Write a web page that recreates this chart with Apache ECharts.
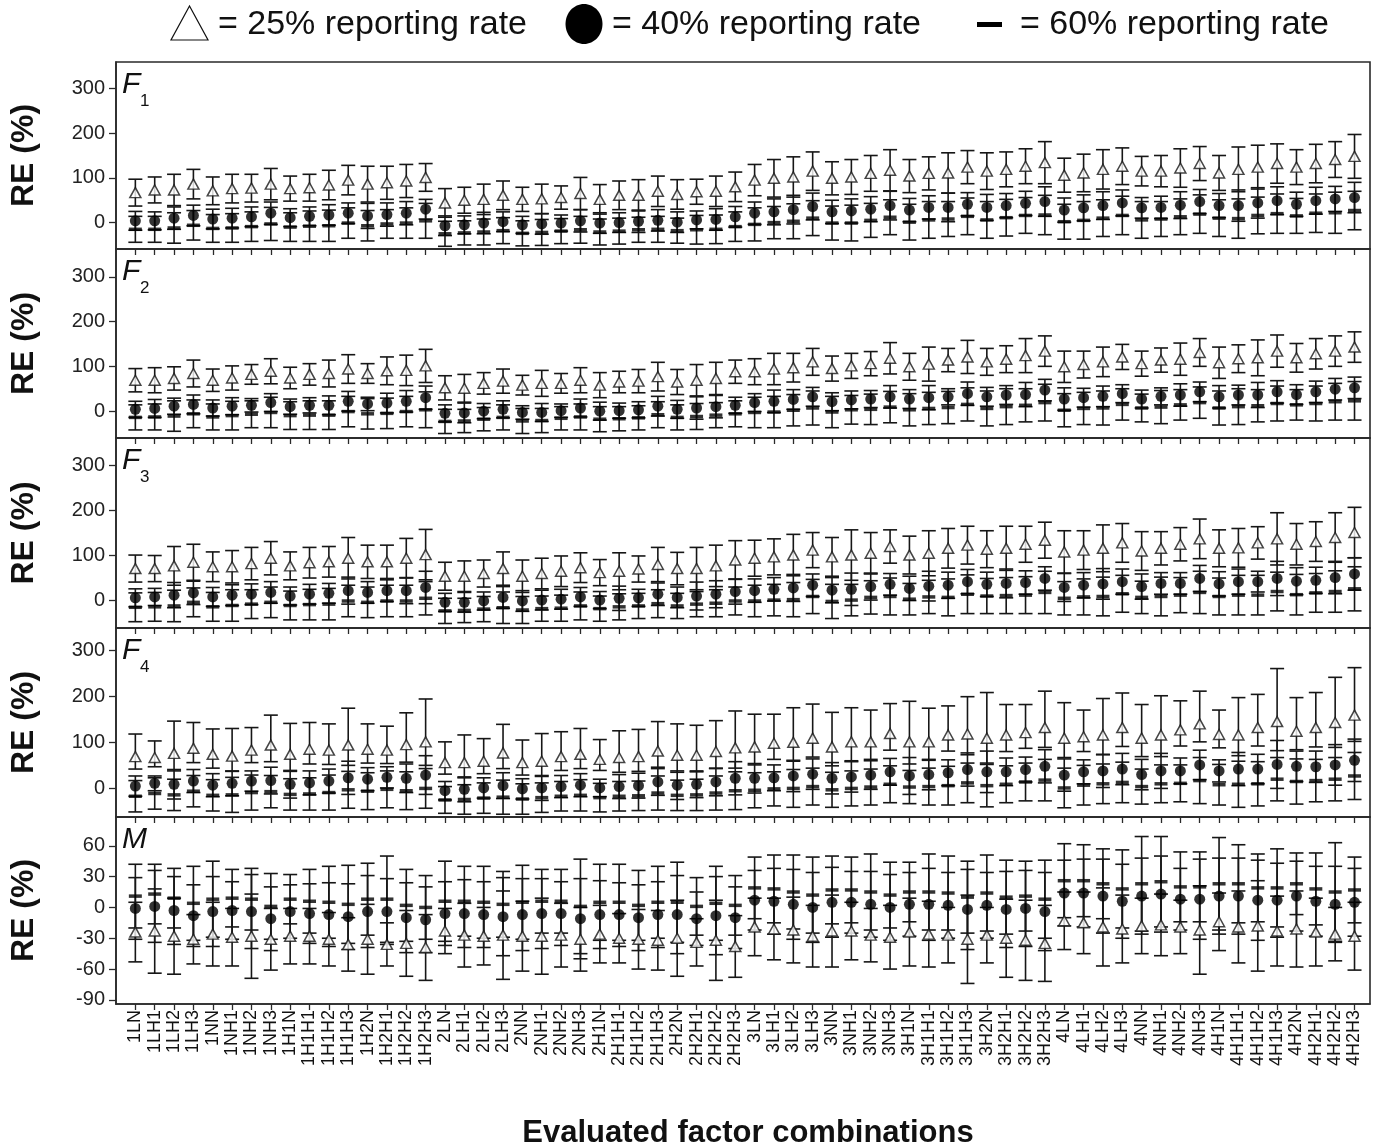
<!DOCTYPE html>
<html><head><meta charset="utf-8">
<script src="https://cdn.jsdelivr.net/npm/echarts@6/dist/echarts.min.js"></script>
<style>html,body{margin:0;padding:0;background:#fff}#c{width:1380px;height:1148px}</style>
</head><body><div id="c"></div>
<script>
const categories = ['1LN','1LH1','1LH2','1LH3','1NN','1NH1','1NH2','1NH3','1H1N','1H1H1','1H1H2','1H1H3','1H2N','1H2H1','1H2H2','1H2H3',
'2LN','2LH1','2LH2','2LH3','2NN','2NH1','2NH2','2NH3','2H1N','2H1H1','2H1H2','2H1H3','2H2N','2H2H1','2H2H2','2H2H3',
'3LN','3LH1','3LH2','3LH3','3NN','3NH1','3NH2','3NH3','3H1N','3H1H1','3H1H2','3H1H3','3H2N','3H2H1','3H2H2','3H2H3',
'4LN','4LH1','4LH2','4LH3','4NN','4NH1','4NH2','4NH3','4H1N','4H1H1','4H1H2','4H1H3','4H2N','4H2H1','4H2H2','4H2H3'];

const fTicks = [0,100,200,300];
const mTicks = [-90,-60,-30,0,30,60];

// ---- F1 ----
const f1TriV = [67,73,73,86,71,76,77,86,76,78,84,95,86,89,93,101, 44,50,52,61,52,53,56,65,52,61,61,70,63,69,70,80, 95,99,102,115,99,102,110,117,104,110,111,124,115,119,126,134, 106,111,119,126,115,115,122,132,111,119,124,132,124,132,141,148];
const f1TriE = [30,29,35,33,31,32,31,35,28,30,33,33,40,37,37,31, 32,29,34,32,27,33,26,36,33,32,35,34,33,28,34,33, 35,42,45,43,37,39,40,46,37,37,45,37,41,39,39,47, 38,42,44,41,33,35,43,38,39,50,49,44,39,43,40,49];
const f1DotV = [4,4,10,16,8,10,13,21,11,14,17,21,15,18,21,30, -7,-5,-1,2,-5,-3,-1,4,-1,0,3,5,1,6,7,13, 21,24,29,36,24,26,30,38,28,34,34,41,34,38,43,47, 28,33,38,44,33,34,39,47,38,38,44,49,41,49,53,56];
const f1DotE = [21,20,25,23,22,22,22,25,20,21,23,23,28,26,26,22, 22,20,24,22,19,23,18,25,23,22,25,24,23,20,24,23, 25,29,32,30,26,27,28,32,26,26,32,26,29,27,27,33, 27,29,31,29,23,25,30,27,27,35,34,31,27,30,28,34];
const f1DashV = [-15,-15,-12,-6,-13,-12,-9,-3,-10,-8,-7,-1,-7,-3,-1,4, -25,-23,-21,-18,-24,-22,-19,-16,-21,-19,-16,-15,-18,-16,-15,-9, -4,0,3,10,-1,-1,5,12,1,6,8,14,6,11,16,17, 2,5,10,16,6,8,13,19,10,9,16,20,15,21,22,27];
const f1DashE = [29,29,34,33,31,32,33,37,32,34,35,34,34,32,34,39, 28,27,29,29,28,29,28,30,29,29,28,29,28,32,32,33, 37,36,39,39,38,40,38,39,40,41,39,41,41,41,40,44, 39,42,41,43,41,39,40,43,41,44,41,44,39,43,46,43];

// ---- F2 ----
const f2TriV = [69,69,73,84,69,74,82,89,74,82,84,94,84,90,91,101, 52,51,62,67,58,62,62,69,58,65,67,77,65,69,73,88, 88,94,97,110,95,101,106,118,99,105,114,121,110,116,124,134, 99,104,110,121,106,114,116,131,108,117,119,134,119,128,134,143];
const f2TriE = [26,28,26,30,25,27,22,28,24,24,30,32,22,31,34,37, 27,31,24,27,22,29,22,28,28,24,26,32,28,35,36,26, 29,35,32,30,28,28,27,35,30,38,26,37,30,30,38,34, 35,30,33,28,28,27,36,31,35,31,40,36,32,34,34,34];
const f2DotV = [4,6,11,15,7,11,13,19,10,13,13,22,16,18,22,30, -5,-4,0,4,-3,-3,1,7,0,1,3,11,4,7,10,13, 19,22,26,32,21,25,27,32,27,30,32,39,32,36,37,47, 27,30,33,39,27,33,36,43,32,36,36,43,37,43,49,52];
const f2DotE = [18,20,18,21,18,19,15,20,17,17,21,22,15,22,24,26, 19,22,17,19,15,20,15,20,20,17,18,22,20,25,25,18, 20,25,22,21,20,20,19,25,21,27,18,26,21,21,27,24, 25,21,23,20,20,19,25,22,25,22,28,25,22,24,24,24];
const f2DashV = [-14,-13,-11,-6,-13,-10,-7,-3,-10,-9,-9,-1,-6,-5,-1,3, -23,-22,-18,-14,-22,-21,-16,-13,-18,-17,-15,-8,-14,-12,-9,-6, -3,-2,2,7,-2,3,4,9,3,6,8,15,6,10,13,19, 2,6,7,15,7,9,14,19,7,10,12,17,14,17,21,23];
const f2DashE = [28,29,34,31,29,32,30,34,31,32,32,34,34,34,34,40, 27,26,26,28,28,27,26,29,28,27,27,29,28,29,28,29, 34,35,35,38,35,32,34,35,36,36,36,37,39,40,37,41, 37,36,38,35,31,37,34,35,38,40,36,39,34,39,41,43];

// ---- F3 ----
const f3TriV = [70,70,76,84,74,74,81,93,76,83,85,93,85,85,93,101, 53,53,59,70,53,59,64,72,61,64,69,79,70,70,76,89, 93,96,100,111,96,100,104,119,100,104,115,122,113,115,124,133, 107,111,115,127,109,115,124,136,115,116,127,136,124,130,139,150];
const f3TriE = [30,29,43,40,33,36,36,37,31,34,34,46,37,37,44,56, 31,34,30,37,36,34,34,33,29,41,29,38,36,47,46,43, 40,40,46,39,43,56,46,37,42,50,44,42,41,49,40,40, 47,43,52,43,43,37,37,44,41,43,36,58,46,44,55,56];
const f3DotV = [5,7,11,16,7,11,13,17,9,13,15,21,17,21,21,28, -5,-5,-2,6,-2,0,2,7,0,4,5,13,6,9,13,19, 21,24,27,33,22,24,30,35,26,31,33,41,35,37,39,48, 28,33,36,41,30,37,37,48,36,41,41,48,42,44,50,58];
const f3DotE = [20,19,28,26,21,23,23,24,20,22,22,30,24,24,29,36, 20,22,20,24,23,22,22,21,19,27,19,25,23,31,30,28, 26,26,30,25,28,36,30,24,27,33,29,27,27,32,26,26, 31,28,34,28,28,24,24,29,27,28,23,38,30,29,36,36];
const f3DashV = [-16,-15,-13,-5,-15,-12,-9,-5,-12,-10,-9,-2,-5,-2,-2,4, -24,-23,-20,-17,-22,-19,-18,-13,-19,-15,-13,-8,-13,-9,-7,-2, -2,0,1,8,-3,0,6,8,2,7,6,13,9,10,11,17, 4,7,8,14,6,8,11,17,8,11,11,19,12,16,19,25];
const f3DashE = [32,32,35,32,32,35,32,34,32,34,35,35,34,35,35,37, 28,27,28,35,30,28,29,31,28,29,28,31,28,28,30,31, 35,35,38,38,38,35,37,41,35,37,41,43,39,40,41,47, 37,40,43,41,36,43,39,47,41,44,44,43,45,43,46,49];

// ---- F4 ----
const f4TriV = [69,67,76,87,74,70,83,94,74,85,83,94,85,83,95,101, 56,56,59,77,56,59,69,74,63,67,69,81,72,72,80,88, 90,98,100,109,90,101,101,119,101,101,116,118,109,116,121,132, 109,112,116,132,109,116,127,140,117,116,132,145,124,132,143,159];
const f4TriE = [49,36,70,56,55,60,49,65,67,58,57,80,55,52,69,93, 45,60,49,62,49,60,54,56,43,58,59,64,68,65,67,80, 71,63,75,74,75,74,69,65,88,73,63,81,99,66,61,79, 77,58,79,75,73,85,63,71,53,81,72,115,73,76,98,103];
const f4TriEd = [27,20,38,31,30,33,27,36,37,32,31,44,30,29,38,51, 25,33,27,34,27,33,30,31,24,32,32,35,37,36,37,44, 39,35,41,41,41,41,38,36,48,40,35,45,54,36,34,43, 42,32,43,41,40,47,35,39,29,45,40,63,40,42,54,57];
const f4DotV = [5,11,9,16,7,11,16,17,9,12,16,23,20,24,22,29, -5,-2,1,6,-1,1,4,7,1,4,6,14,7,9,14,22, 22,23,27,31,22,25,29,36,27,30,34,41,36,36,41,48, 29,36,38,42,30,38,38,51,38,42,42,52,48,47,51,61];
const f4DotE = [22,16,32,25,25,27,22,29,30,26,26,36,25,23,31,42, 20,27,22,28,22,27,24,25,19,26,27,29,31,29,30,36, 32,28,34,33,34,33,31,29,40,33,28,36,45,30,27,36, 35,26,36,34,33,38,28,32,24,36,32,52,33,34,44,46];
const f4DashV = [-17,-11,-14,-6,-15,-14,-9,-7,-13,-12,-9,-3,-6,-2,-5,0, -25,-24,-21,-19,-23,-20,-17,-15,-20,-17,-16,-10,-15,-14,-10,-5, -4,-1,0,4,-3,0,3,9,3,4,6,12,6,9,14,18, 1,7,10,13,4,10,11,17,8,9,10,20,15,17,20,27];
const f4DashE = [34,34,34,34,34,38,38,35,34,35,38,40,40,40,41,43, 29,32,33,37,33,32,32,34,31,32,32,37,33,34,37,41, 38,37,41,40,38,38,39,40,36,40,42,43,46,40,41,45, 43,43,43,44,38,41,40,50,44,50,48,47,49,46,47,51];

// ---- M ----
const mTriV = [-24,-23,-28,-31,-26,-29,-28,-31,-28,-28,-31,-36,-31,-36,-35,-39, -23,-27,-28,-27,-28,-28,-27,-31,-26,-30,-31,-32,-30,-34,-32,-38, -19,-21,-22,-28,-23,-23,-27,-29,-24,-26,-27,-31,-27,-30,-32,-35, -13,-15,-19,-21,-18,-17,-19,-22,-14,-19,-18,-23,-21,-24,-26,-28];
const mTriE = [29,41,37,24,31,28,41,30,27,27,26,26,34,21,32,32, 22,31,28,43,34,37,31,31,28,24,29,29,37,23,39,30, 28,30,32,30,35,28,26,31,33,32,27,43,27,38,39,37, 28,30,38,33,27,30,26,43,28,35,44,34,37,33,26,33];
const mDotV = [-1,1,-3,-8,-4,-3,-4,-11,-4,-6,-7,-9,-4,-4,-10,-12, -6,-6,-7,-9,-7,-6,-6,-11,-7,-7,-10,-7,-7,-11,-8,-10, 7,6,3,0,5,5,3,0,3,3,2,-2,2,-2,-1,-4, 14,14,11,6,11,13,8,8,11,11,7,7,11,6,3,5];
const mDotE = [30,35,33,30,34,28,36,31,26,29,31,32,35,32,34,32, 31,33,32,38,35,34,31,39,33,31,32,32,38,26,38,30, 29,32,34,34,34,30,32,32,31,35,32,39,32,37,37,38, 32,33,36,36,37,37,30,39,37,37,39,36,34,34,37,33];
const mDashV = [11,13,9,4,8,9,8,1,8,6,5,3,8,8,2,0, 6,6,5,3,5,6,6,1,5,5,2,5,5,1,4,2, 19,18,15,12,17,17,15,12,15,15,14,10,14,10,11,8, 26,26,23,18,23,25,20,20,23,23,19,19,23,18,15,17];
const mDashE = [31,29,29,36,37,28,30,32,24,31,35,38,35,42,35,31, 39,34,35,32,36,31,31,46,37,37,34,35,39,28,36,29, 30,33,36,37,33,32,37,32,29,37,36,35,37,36,34,38, 36,35,34,38,46,44,34,34,45,38,33,38,30,35,48,32];

// ---------- layout ----------
const FONT = '"Liberation Sans", Arial, Helvetica, sans-serif';
const INK = '#161616';
const panels = [
  {name:'F', sub:'1', top:62,  h:187, min:-59, max:359, ticks:fTicks, tri:[f1TriV,f1TriE,f1TriE], dot:[f1DotV,f1DotE], dash:[f1DashV,f1DashE]},
  {name:'F', sub:'2', top:249, h:189, min:-60, max:362, ticks:fTicks, tri:[f2TriV,f2TriE,f2TriE], dot:[f2DotV,f2DotE], dash:[f2DashV,f2DashE]},
  {name:'F', sub:'3', top:438, h:190, min:-62, max:360, ticks:fTicks, tri:[f3TriV,f3TriE,f3TriE], dot:[f3DotV,f3DotE], dash:[f3DashV,f3DashE]},
  {name:'F', sub:'4', top:628, h:189, min:-62, max:348, ticks:fTicks, tri:[f4TriV,f4TriE,f4TriEd], dot:[f4DotV,f4DotE], dash:[f4DashV,f4DashE]},
  {name:'M', sub:'',  top:817, h:187, min:-94, max:88,  ticks:mTicks, tri:[mTriV,mTriE,mTriE], dot:[mDotV,mDotE], dash:[mDashV,mDashE]}
];
const idx = categories.map((c,i)=>i);

function renderBar(params, api){
  const x = api.value(0), lo = api.value(1), hi = api.value(2);
  const p1 = api.coord([x, hi]), p2 = api.coord([x, lo]);
  const w = 7;
  const st = {stroke: INK, lineWidth: 1.6};
  return {type:'group', children:[
    {type:'line', shape:{x1:p1[0], y1:p1[1], x2:p2[0], y2:p2[1]}, style:st},
    {type:'line', shape:{x1:p1[0]-w, y1:p1[1], x2:p1[0]+w, y2:p1[1]}, style:st},
    {type:'line', shape:{x1:p2[0]-w, y1:p2[1], x2:p2[0]+w, y2:p2[1]}, style:st}
  ]};
}

const grids = [], xAxes = [], yAxes = [], series = [], graphics = [];
panels.forEach((p, i) => {
  grids.push({left:116, width:1254, top:p.top, height:p.h, show:true, borderColor:'#2a2a2a', borderWidth:1.6, backgroundColor:'transparent', containLabel:false});
  xAxes.push({type:'value', gridIndex:i, min:-1, max:63.8,
    axisLine:{show:true, onZero:false, lineStyle:{color:'#2a2a2a', width:1.6}},
    axisTick:{show:true, customValues:idx, length:6, lineStyle:{color:'#2a2a2a', width:1.3}},
    axisLabel:{show:i===4, customValues:idx, formatter:v=>categories[Math.round(v)], rotate:90, fontSize:18, color:'#111', fontFamily:FONT, margin:6},
    splitLine:{show:false}});
  yAxes.push({type:'value', gridIndex:i, min:p.min, max:p.max,
    axisLine:{show:true, onZero:false, lineStyle:{color:'#2a2a2a', width:1.6}},
    axisTick:{show:true, customValues:p.ticks, length:7, lineStyle:{color:'#2a2a2a', width:1.3}},
    axisLabel:{customValues:p.ticks, fontSize:20, color:'#222', fontFamily:FONT, margin:11},
    splitLine:{show:false},
    name:'RE (%)', nameLocation:'middle', nameGap:76, nameRotate:90,
    nameTextStyle:{fontSize:32, fontWeight:'bold', color:'#111', fontFamily:FONT}});

  const [tv, tu, td] = p.tri, [dv, de] = p.dot, [sv, se] = p.dash;
  const bars = [
    tv.map((v,k)=>[k, v - td[k], v + tu[k]]),
    dv.map((v,k)=>[k, v - de[k], v + de[k]]),
    sv.map((v,k)=>[k, v - se[k], v + se[k]])
  ];
  bars.forEach(b => series.push({type:'custom', xAxisIndex:i, yAxisIndex:i, data:b, renderItem:renderBar, encode:{x:0, y:[1,2]}, silent:true, z:2, clip:false}));
  series.push({type:'scatter', xAxisIndex:i, yAxisIndex:i, data:sv.map((v,k)=>[k,v]), symbol:'rect', symbolSize:[13,3.5], itemStyle:{color:'#000'}, z:3, silent:true});
  series.push({type:'scatter', xAxisIndex:i, yAxisIndex:i, data:dv.map((v,k)=>[k,v]), symbol:'circle', symbolSize:11, itemStyle:{color:'#000'}, z:4, silent:true});
  series.push({type:'scatter', xAxisIndex:i, yAxisIndex:i, data:tv.map((v,k)=>[k,v]), symbol:'triangle', symbolSize:[11,10], itemStyle:{color:'#fff', borderColor:INK, borderWidth:1.5}, z:5, silent:true});

  graphics.push({type:'text', left:122, top:p.top+8, z:10, style:{text:p.name, font:'italic 30px '+FONT, fill:'#111'}});
  if (p.sub) graphics.push({type:'text', left:140, top:p.top+31, z:10, style:{text:p.sub, font:'17px '+FONT, fill:'#111'}});
});

// legend (drawn shapes + real text)
graphics.push({type:'polygon', shape:{points:[[171,40],[208,40],[189.5,6]]}, style:{fill:'#fff', stroke:'#111', lineWidth:1.2}});
graphics.push({type:'text', x:218, y:25, style:{text:'= 25% reporting rate', font:'34px '+FONT, fill:'#111', textVerticalAlign:'middle'}});
graphics.push({type:'ellipse', shape:{cx:584, cy:24, rx:18.5, ry:20}, style:{fill:'#000'}});
graphics.push({type:'text', x:612, y:25, style:{text:'= 40% reporting rate', font:'34px '+FONT, fill:'#111', textVerticalAlign:'middle'}});
graphics.push({type:'rect', shape:{x:977, y:22, width:25, height:5}, style:{fill:'#000'}});
graphics.push({type:'text', x:1020, y:25, style:{text:'= 60% reporting rate', font:'34px '+FONT, fill:'#111', textVerticalAlign:'middle'}});
// x axis title
graphics.push({type:'text', x:748, y:1133, style:{text:'Evaluated factor combinations', font:'bold 31px '+FONT, fill:'#111', textAlign:'center', textVerticalAlign:'middle'}});

const chart = echarts.init(document.getElementById('c'), null, {renderer:'canvas'});
chart.setOption({animation:false, backgroundColor:'#fff', grid:grids, xAxis:xAxes, yAxis:yAxes, series:series, graphic:graphics});
</script></body></html>
